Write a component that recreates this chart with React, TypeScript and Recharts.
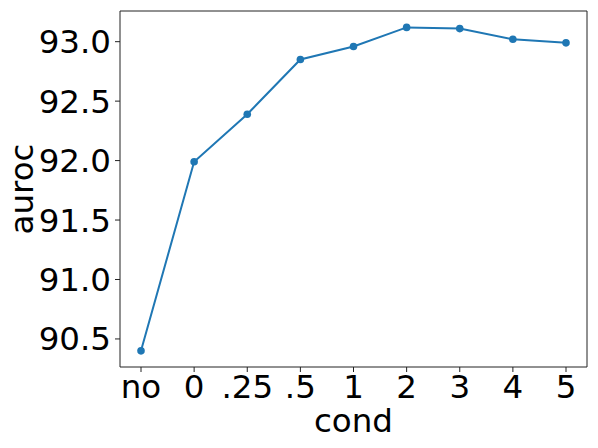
import { LineChart, Line, XAxis, YAxis } from "recharts"

const conds = ["no", "0", ".25", ".5", "1", "2", "3", "4", "5"]
const auroc = [90.4, 91.99, 92.39, 92.85, 92.96, 93.12, 93.11, 93.02, 92.99]
const yTicks = [90.5, 91.0, 91.5, 92.0, 92.5, 93.0]

const data = conds.map((c, i) => ({ cond: c, auroc: auroc[i] }))

const FONT = "DejaVu Sans, sans-serif"
const AXIS = "#222"
const BLUE = "#1f77b4"
const FS = 32.5

const YLabel = (props: any) => {
  const { viewBox } = props
  const x = 33
  const y = viewBox.y + viewBox.height / 2
  return (
    <text x={x} y={y} transform={`rotate(-90, ${x}, ${y})`} textAnchor="middle"
      fontFamily={FONT} fontSize={FS} fill="#000">auroc</text>
  )
}

const XLabel = (props: any) => {
  const { viewBox } = props
  const x = viewBox.x + viewBox.width / 2
  return (
    <text x={x} y={432} textAnchor="middle" fontFamily={FONT} fontSize={FS} fill="#000">cond</text>
  )
}

export default function App() {
  const tick = { fontFamily: FONT, fontSize: FS, fill: "#000" }
  return (
    <div style={{ position: "absolute", left: 0, top: 0 }}>
      <LineChart width={598} height={448} data={data}
        margin={{ top: 10, right: 10, bottom: 0, left: 0 }}>
        <XAxis dataKey="cond" height={81} padding={{ left: 21, right: 21 }}
          stroke={AXIS} tick={tick} tickSize={5} tickMargin={3}
          tickLine={{ stroke: AXIS }} interval={0} label={<XLabel />} />
        <XAxis xAxisId="top" orientation="top" dataKey="cond" height={1}
          stroke={AXIS} tick={false} tickLine={false} />
        <YAxis width={120} domain={[90.264, 93.258]} ticks={yTicks}
          tickFormatter={(v: number) => v.toFixed(1)} stroke={AXIS} tick={tick}
          tickSize={5} tickMargin={4} allowDataOverflow label={<YLabel />} />
        <YAxis yAxisId="right" orientation="right" width={1} domain={[90.264, 93.258]}
          stroke={AXIS} tick={false} tickLine={false} />
        <Line dataKey="auroc" stroke={BLUE} strokeWidth={2} isAnimationActive={false}
          dot={{ r: 3.8, fill: BLUE, stroke: BLUE, strokeWidth: 0 }} />
      </LineChart>
    </div>
  )
}
